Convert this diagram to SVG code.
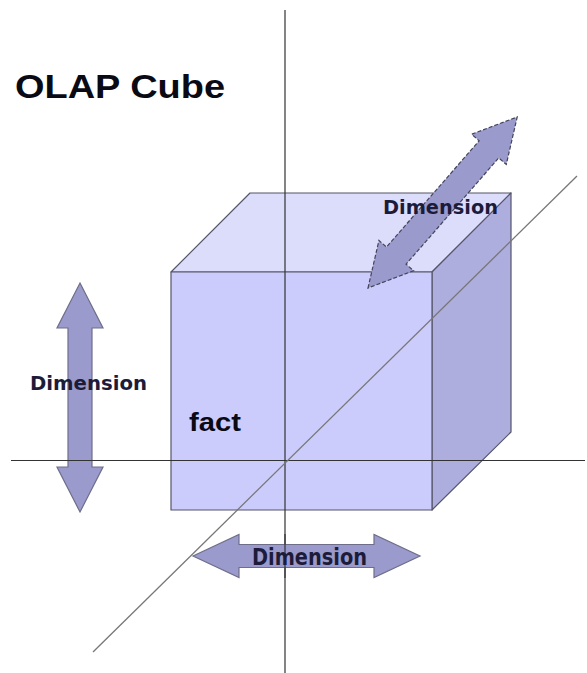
<svg xmlns="http://www.w3.org/2000/svg" width="587" height="673" viewBox="0 0 587 673">
<style>
.face{stroke:#55556a;stroke-width:1.2;stroke-linejoin:round}
.axis{stroke:#333;stroke-width:1.2;fill:none}
.diag{stroke:#777;stroke-width:1.3;fill:none}
.arrow{fill:#9a9acc;stroke:#6e6e8a;stroke-width:1.2;stroke-linejoin:miter}
.dashed{stroke:#44445a;stroke-dasharray:4 2}
.lbl{font-family:"DejaVu Sans","Liberation Sans",sans-serif;font-weight:bold;fill:#1c1c3a}
.title{font-family:"Liberation Sans",Arial,sans-serif;font-weight:bold;fill:#0a0a14}
</style>
<rect width="587" height="673" fill="#ffffff"/>
<g id="cube">
<polygon class="face" points="171,272 250,193 511,193 432,272" fill="#dcdcfb"/>
<polygon class="face" points="432,272 511,193 511,432 432,510" fill="#adadde"/>
<polygon class="face" points="171,272 432,272 432,510 171,510" fill="#ccccfc"/>
</g>
<g id="axes">
<line class="axis" x1="285" y1="10" x2="285" y2="673"/>
<line class="axis" x1="11" y1="460.5" x2="585" y2="460.5"/>
<line class="diag" x1="93" y1="652" x2="577" y2="176"/>
</g>
<g id="arrow-vertical">
<path class="arrow" transform="translate(80,283) rotate(90)" d="M0,0 L45,-23 L45,-12 L184,-12 L184,-23 L229,0 L184,23 L184,12 L45,12 L45,23 Z"/>
<line class="axis" x1="57" y1="460.5" x2="103" y2="460.5"/>
</g>
<g id="arrow-horizontal">
<path class="arrow" transform="translate(193,556)" d="M0,0 L46,-21.5 L46,-11.5 L181,-11.5 L181,-21.5 L227,0 L181,21.5 L181,11.5 L46,11.5 L46,21.5 Z"/>
<line class="axis" x1="285" y1="534" x2="285" y2="578"/>
</g>
<g id="arrow-diagonal">
<path class="arrow dashed" transform="translate(368,288) rotate(-48.9)" d="M0,0 L43,-23 L43,-13 L184,-13 L184,-23 L227,0 L184,23 L184,13 L43,13 L43,23 Z"/>
</g>
<g id="labels">
<text class="title" x="15" y="98" font-size="33" textLength="210" lengthAdjust="spacingAndGlyphs">OLAP Cube</text>
<text class="lbl" x="383" y="214" font-size="20" textLength="115" lengthAdjust="spacingAndGlyphs">Dimension</text>
<text class="lbl" x="30" y="390" font-size="19" textLength="117" lengthAdjust="spacingAndGlyphs">Dimension</text>
<text class="lbl" x="252" y="565" font-size="23" textLength="115" lengthAdjust="spacingAndGlyphs">Dimension</text>
<text class="title" x="189" y="431" font-size="26" textLength="52" lengthAdjust="spacingAndGlyphs">fact</text>
</g>
</svg>
